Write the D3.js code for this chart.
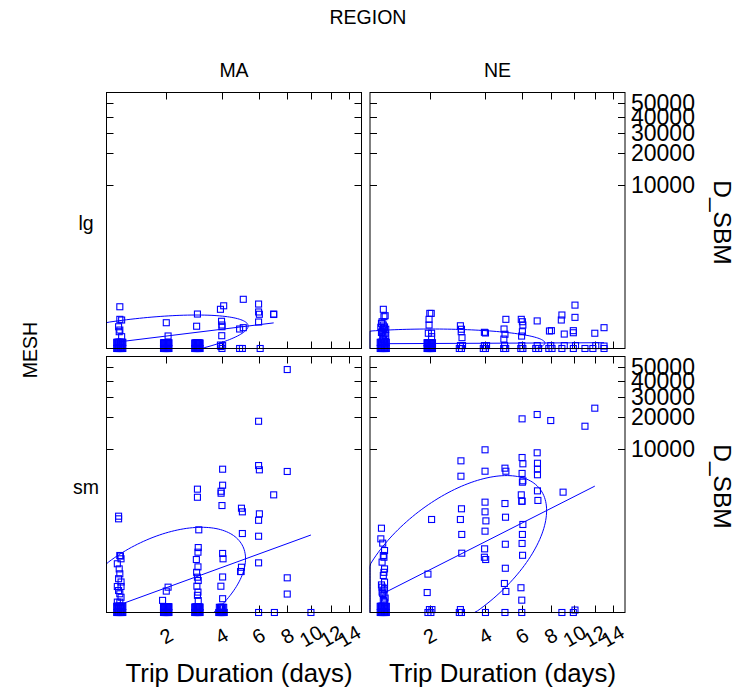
<!DOCTYPE html>
<html>
<head>
<meta charset="utf-8">
<script src="https://cdn.jsdelivr.net/npm/d3@7"></script>
<style>
  html, body { margin: 0; padding: 0; background: #fff; }
  svg { display: block; font-family: "Liberation Sans", Arial, sans-serif; }
</style>
</head>
<body>
<svg id="chart" width="740" height="689"></svg>
<script>
// ---------------- DATA ----------------
const regions = ["MA", "NE"];          // columns
const meshes = ["lg", "sm"];           // rows
const xTickValues = [2, 4, 6, 8, 10, 12, 14];
const yTickValues = [10000, 20000, 30000, 40000, 50000];

// Overlapping zero-catch trips (drawn as dense clusters), [days, D_SBM]
const zerosDay1 = [[0.95,0],[0.96,0],[0.97,0],[0.98,0],[0.99,0],[1,0],[1.01,0],[1.02,0],[1.03,0],[1.04,0],[1.05,0],
  [0.95,0.02],[0.96,0.02],[0.97,0.02],[0.98,0.02],[0.99,0.02],[1,0.02],[1.01,0.02],[1.02,0.02],[1.03,0.02],[1.04,0.02],[1.05,0.02]];
const zerosDay2 = [[1.925,0],[1.94,0],[1.955,0],[1.97,0],[1.985,0],[2,0],[2.015,0],[2.03,0],[2.045,0],[2.06,0],[2.075,0],
  [1.925,0.015],[1.94,0.015],[1.955,0.015],[1.97,0.015],[1.985,0.015],[2,0.015],[2.015,0.015],[2.03,0.015],[2.045,0.015],[2.06,0.015],[2.075,0.015]];
const zerosDay3 = [[2.9,0],[2.92,0],[2.94,0],[2.96,0],[2.98,0],[3,0],[3.02,0],[3.04,0],[3.06,0],[3.08,0],[3.1,0],
  [2.9,0.012],[2.92,0.012],[2.94,0.012],[2.96,0.012],[2.98,0.012],[3,0.012],[3.02,0.012],[3.04,0.012],[3.06,0.012],[3.08,0.012],[3.1,0.012]];
const zerosDay4 = [[3.875,0],[3.9,0],[3.925,0],[3.95,0],[3.975,0],[4,0],[4.025,0],[4.05,0],[4.075,0],[4.1,0],[4.125,0],
  [3.9,0.01],[3.95,0.01],[4,0.01],[4.05,0.01],[4.1,0.01]];

// [trip duration (days), D_SBM]
const pointsMA_lg = [
  [1,42],[1,10],[1.03,9.1],[0.98,3.1],[1,1.6],[0.99,1.1],[1.03,0.27],
  [2,6.1],[2.05,0.34],
  [3,19.5],[2.97,3.4],
  [3.95,32.6],[4.1,46],[4,7.6],[4.02,4.2],[4.02,3.1],[4.01,0.37],[3.97,0.0002],[4.02,0],[3.95,0.002],[4.05,0.001],
  [5.1,81],[4.9,2.0],[5.1,2.6],[4.9,0],[5.05,0],
  [6,54],[6,24.6],[6.05,19],[6,6.8],[6.1,0],
  [7,19.5],[7,18.5]
].concat(zerosDay1, zerosDay2, zerosDay3);
const pointsMA_sm = [
  [8,48200],[6,18500],[6,6450],[6.05,5730],[8,5470],[4.05,5830],[4.05,3630],[3.98,2990],[3.98,2800],[4.02,1810],
  [3,3200],[3,2440],[7,2650],[5,1635],[5.05,1420],[6,1000],[6.05,1310],[5.05,538],[6,468],
  [0.98,1190],[0.98,1065],
  [3.05,646],[3.03,246],[3.02,183],[2.96,109],[3.02,60],[2.97,36],[3,21.5],[3.03,14.5],[2.98,6.6],[3.02,2.4],[3,1.2],[3.03,0.28],
  [4.05,168],[4.07,115],[5,58],[4.98,39],[4.95,39],[6,84],[4.05,22],[3.97,6.6],[4.05,0.5],[8,20],[8,1.6],
  [6,0],[7.05,0],[10,0],
  [2.05,5.7],[2,2.9],[1.9,0.3],
  [1,146],[1.02,115],[0.96,78],[0.99,50],[1,31],[0.98,18],[1.02,12],[0.96,6.3],[1.02,6.3],[0.98,3.2],[1,1.7],[1.02,0.75],[0.96,0.16],[1,0.16],[1.01,140]
].concat(zerosDay1, zerosDay2, zerosDay3, zerosDay4);
const pointsNE_lg = [
  [1,32.6],[1.03,16],[1.01,14.2],[0.98,7.1],[1,4.2],[1,2.3],[0.98,1.1],[1.03,0.75],[0.99,0.27],[1,0.1],
  [0.97,5.5],[1.02,3.0],[0.99,1.6],[1.01,0.5],[0.96,2.8],[1.04,1.9],[0.97,0.9],[1.04,0.4],
  [2,21],[2.04,21],[1.98,10],[1.98,4.2],[1.96,0.75],[2.05,0.75],[2.05,0.27],
  [2.98,3.7],[3.02,1.9],[3.01,1.1],[3.04,0.19],
  [3.97,0.95],[4.02,0.8],
  [5.05,10],[4.95,2.0],[5,0.57],[4.94,0.11],
  [5.95,10],[6.02,7.1],[6.05,4.2],[6.02,1.1],[5.97,0.33],
  [7,8.0],
  [7.9,1.3],[8.05,1.4],
  [8.9,17.4],[8.85,9.1],[9.1,0.6],
  [10.05,49],[10.05,13],[9.9,1.4],[9.9,0.85],
  [12,0.75],[13,2.6],[13,0.0005],[11.8,0],
  [2.94,0],[2.98,0.001],[3.02,0],[3.06,0.001],[3.92,0],[3.97,0.001],[4.02,0],[4.07,0.001],
  [4.93,0],[4.98,0.001],[5.04,0],[5.92,0],[5.98,0.001],[6.05,0],[6.9,0],[7.0,0.001],[7.1,0],
  [7.85,0],[8.0,0.001],[8.1,0],[8.9,0],[9.1,0.001],[9.9,0],[10.1,0.001],[11,0],[12.1,0.001],[13,0]
].concat(zerosDay1, zerosDay2);
const pointsNE_sm = [
  [12,24100],[11,16650],[6,19450],[7,21250],[8,18780],[4,9690],[3,7320],[3,4770],[4,5510],[5,6000],[5.05,5510],
  [6,7980],[6.05,6760],[6,5170],[6.05,4160],[6.02,3990],
  [7,9000],[7.02,6860],[7.02,5830],[7.02,4980],[7.02,3030],[7.05,2180],
  [9,2900],[5.95,2650],[6,2120],[5.98,2120],[4,2050],[5,1950],[3.02,1600],[4,1420],[5.03,1140],[2.98,1035],[4.04,975],[2.05,1035],
  [6.05,830],[4,605],[6.02,513],[3.03,513],[6,314],[5.02,300],[3.98,227],[3.03,171],[3.97,129],[4.03,109],[6.03,148],
  [5.02,53],[1.95,30],[4.97,9.8],[5.05,2.7],[5.93,5.2],[5.98,0.32],[1.93,2.2],
  [0.97,698],[0.96,407],[0.99,320],[1.02,204],[1,146],[1.01,129],[0.98,89],[1.02,50],[1.01,36],[1,26],[1.02,11.7],[0.98,5.7],[1.02,4.4],[0.98,2.4],[1.01,1.2],[1,0.28],[1.02,0.16],
  [0.97,8],[1.01,3.5],[0.99,1.8],[1.03,0.6],
  [1.95,0],[1.99,0.001],[2.03,0],[2.06,0.001],
  [2.94,0],[2.98,0.001],[3.02,0],
  [4.02,0],[5,0],[5.98,0],[8.9,0],[9.9,0],[10.05,0.0005]
].concat(zerosDay1);
const panelPoints = [[pointsMA_lg, pointsNE_lg], [pointsMA_sm, pointsNE_sm]];

// Data ellipse + regression line per panel, in fourth-root units (days^0.25, D_SBM^0.25)
// order: [row][col]
const fitMeanX   = [[1.028, 1.179], [1.148, 1.277]];
const fitMeanY   = [[0.463, 0.305], [1.287, 3.27]];
const fitSpreadX = [[0.4945, 0.479], [0.364, 0.388]];
const fitSpreadY = [[1.579, 0.884], [3.91, 5.08]];
const fitCorr    = [[0.575, 0.036], [0.508, 0.58]];
const fitDayRange = [[[1, 7], [1, 13]], [[1, 10], [1, 12]]];

// ---------------- LAYOUT ----------------
const svg = d3.select("#chart");
const W = 255, H = 256;
const colLeft = [106.5, 370];
const rowTop = [92.5, 356.5];
const xDomain = [0.8, 15.5];
const yDomain = [0, 59400];
const blue = "#0000ff";
const tickLen = 7;

const xScales = colLeft.map(l => d3.scalePow().exponent(0.25).domain(xDomain).range([l, l + W]).clamp(true));
const yScales = rowTop.map(t => d3.scalePow().exponent(0.25).domain(yDomain).range([t + H, t]).clamp(true));

const rt = v => Math.pow(v, 0.25);
const p4 = v => Math.pow(Math.max(0, v), 4);

for (let r = 0; r < 2; r++) {
  for (let c = 0; c < 2; c++) {
    const xs = xScales[c], ys = yScales[r];
    const g = svg.append("g");
    const clipId = `clip${r}${c}`;
    svg.append("clipPath").attr("id", clipId).append("rect")
      .attr("x", colLeft[c] - 4).attr("y", rowTop[r] - 4).attr("width", W + 8).attr("height", H + 8);

    // ticks (inside, all four sides)
    const tk = g.append("g").attr("stroke", "#000").attr("stroke-width", 1);
    xTickValues.forEach(v => {
      const x = Math.round(xs(v)) + 0.5;
      tk.append("line").attr("x1", x).attr("x2", x).attr("y1", rowTop[r]).attr("y2", rowTop[r] + tickLen);
      tk.append("line").attr("x1", x).attr("x2", x).attr("y1", rowTop[r] + H).attr("y2", rowTop[r] + H - tickLen);
    });
    yTickValues.forEach(v => {
      const y = Math.round(ys(v)) + 0.5;
      tk.append("line").attr("x1", colLeft[c]).attr("x2", colLeft[c] + tickLen).attr("y1", y).attr("y2", y);
      tk.append("line").attr("x1", colLeft[c] + W).attr("x2", colLeft[c] + W - tickLen).attr("y1", y).attr("y2", y);
    });

    // points
    const pts = panelPoints[r][c];
    const s = 6;
    g.append("g").attr("clip-path", `url(#${clipId})`).selectAll("rect").data(pts).enter().append("rect")
      .attr("x", d => xs(d[0]) - s / 2).attr("y", d => ys(d[1]) - s / 2)
      .attr("width", s).attr("height", s)
      .attr("fill", "none").attr("stroke", blue).attr("stroke-width", 1.1);

    // data ellipse (clamped to panel)
    const mx = fitMeanX[r][c], my = fitMeanY[r][c], ax = fitSpreadX[r][c], ay = fitSpreadY[r][c], rho = fitCorr[r][c];
    const ell = d3.range(0, 361, 2).map(a => {
      const t = a * Math.PI / 180;
      const xt = mx + ax * Math.cos(t);
      const yt = my + ay * (rho * Math.cos(t) + Math.sqrt(1 - rho * rho) * Math.sin(t));
      return [p4(xt), p4(yt)];
    });
    const line = d3.line().x(d => xs(d[0])).y(d => ys(d[1]));
    g.append("path").attr("d", line(ell)).attr("fill", "none").attr("stroke", blue).attr("stroke-width", 1);

    // regression line
    const slope = rho * ay / ax;
    const reg = fitDayRange[r][c].map(dv => [dv, p4(my + slope * (rt(dv) - mx))]);
    g.append("path").attr("d", line(reg)).attr("fill", "none").attr("stroke", blue).attr("stroke-width", 1);

    // frame
    g.append("rect").attr("x", colLeft[c]).attr("y", rowTop[r]).attr("width", W).attr("height", H)
      .attr("fill", "none").attr("stroke", "#000").attr("stroke-width", 1);
  }
}

// ---------------- TEXT ----------------
const text = (x, y, str, size, opts = {}) => {
  const t = svg.append("text").attr("x", x).attr("y", y).attr("font-size", size)
    .attr("text-anchor", opts.anchor || "middle").attr("dominant-baseline", "central").attr("fill", "#000").text(str);
  if (opts.rotate) t.attr("transform", `rotate(${opts.rotate},${x},${y})`);
  return t;
};

text(368, 17, "REGION", 19.5);
regions.forEach((reg, c) => text(colLeft[c] + W / 2, 70, reg, 19.5));
meshes.forEach((m, r) => text(86, rowTop[r] + H / 2 + 2, m, 19.5));
text(30, 350, "MESH", 19.5, { rotate: -90 });

// y tick labels on right side
meshes.forEach((m, r) => {
  yTickValues.forEach(v => text(631, yScales[r](v), String(v), 23, { anchor: "start" }));
  text(722, rowTop[r] + H / 2 + 2, "D_SBM", 24.5, { rotate: 90 });
});

// x tick labels under bottom row
regions.forEach((reg, c) => {
  xTickValues.forEach(v => text(xScales[c](v), 636, String(v), 20, { rotate: -30 }));
  text(colLeft[c] + W / 2 + 5, 673, "Trip Duration (days)", 25.8);
});
</script>
</body>
</html>
